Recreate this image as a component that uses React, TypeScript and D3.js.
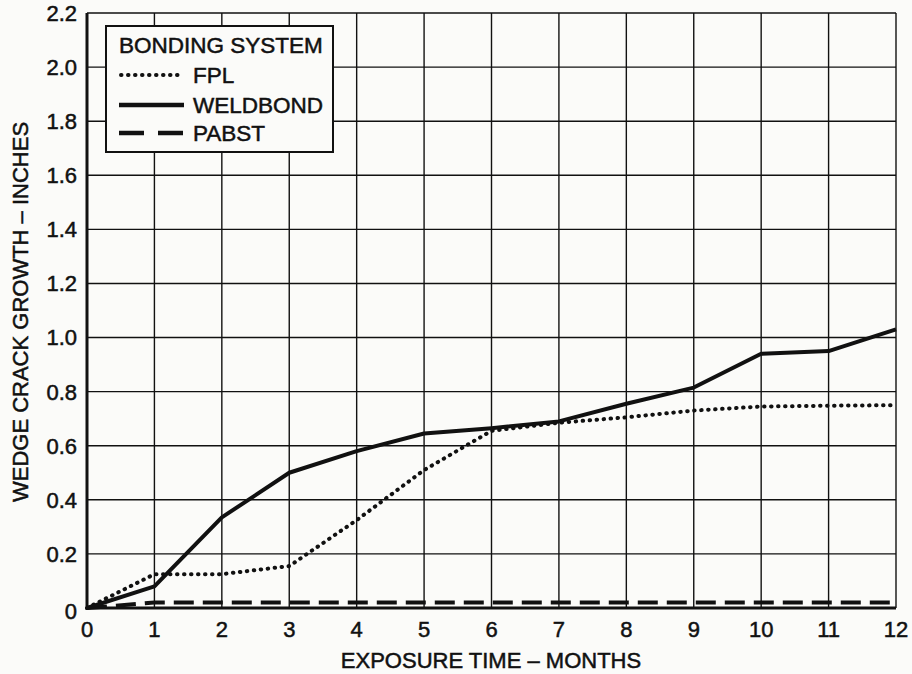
// @ts-nocheck
import React, { useEffect } from 'react';
import * as d3 from 'd3'

// months on the x axis
const months = [0, 1, 2, 3, 4, 5, 6, 7, 8, 9, 10, 11, 12]
// wedge crack growth, inches
const fpl = [0, 0.125, 0.125, 0.155, 0.325, 0.51, 0.655, 0.685, 0.705, 0.73, 0.745, 0.748, 0.75]
const weldbond = [0, 0.08, 0.335, 0.5, 0.58, 0.645, 0.665, 0.69, 0.755, 0.815, 0.94, 0.95, 1.03]
const pabst = [0, 0.02, 0.02, 0.02, 0.02, 0.02, 0.02, 0.02, 0.02, 0.02, 0.02, 0.02, 0.02]

const yTicks = [0, 0.2, 0.4, 0.6, 0.8, 1.0, 1.2, 1.4, 1.6, 1.8, 2.0, 2.2]
const xTicks = months

const font = "'Liberation Sans', Arial, Helvetica, sans-serif"
const ink = "#111"
const paper = "#fbfbf9"

export default function App() {
    useEffect(() => {
        document.body.style.margin = "0"
    }, [])

    const W = 912, H = 674
    const x = d3.scaleLinear().domain([0, 12]).range([87, 896])
    const y = d3.scaleLinear().domain([0, 2.2]).range([608, 13])

    const line = d3.line()
        .x(d => x(d[0]))
        .y(d => y(d[1]))

    const pts = (vals) => months.map((m, i) => [m, vals[i]])

    const yFmt = v => (v === 0 ? "0" : v.toFixed(1))

    return (
        <svg width={W} height={H} style={{ display: "block", background: paper }}>
            {/* grid */}
            <g stroke={ink} strokeWidth={1.4}>
                {xTicks.filter(t => t > 0).map(t => (
                    <line key={"gx" + t} x1={x(t)} x2={x(t)} y1={y(0)} y2={y(2.2)} />
                ))}
                {yTicks.filter(t => t > 0).map(t => (
                    <line key={"gy" + t} x1={x(0)} x2={x(12)} y1={y(t)} y2={y(t)} />
                ))}
            </g>

            {/* axes */}
            <line x1={x(0)} x2={x(0)} y1={y(0) + 1.5} y2={y(2.2)} stroke={ink} strokeWidth={3} />
            <line x1={x(0)} x2={x(12)} y1={y(0)} y2={y(0)} stroke={ink} strokeWidth={3} />

            {/* legend box (covers grid) */}
            <rect x={106} y={26} width={227} height={126} fill={paper} stroke={ink} strokeWidth={2} />
            <g fontFamily={font} fontSize={22.5} fill={ink} stroke={ink} strokeWidth={0.5}>
                <text x={119} y={53}>BONDING SYSTEM</text>
                <text x={193} y={83}>FPL</text>
                <text x={193} y={113}>WELDBOND</text>
                <text x={193} y={141}>PABST</text>
            </g>
            <line x1={121} x2={183} y1={75} y2={75} stroke={ink} strokeWidth={4}
                strokeDasharray="0.5 6.5" strokeLinecap="round" />
            <line x1={119} x2={184} y1={105} y2={105} stroke={ink} strokeWidth={4.5} />
            <line x1={119} x2={184} y1={133} y2={133} stroke={ink} strokeWidth={4.5}
                strokeDasharray="25 14" />

            {/* series */}
            <path d={line(pts(pabst))} fill="none" stroke={ink} strokeWidth={4}
                strokeDasharray="20 9" />
            <path d={line(pts(fpl))} fill="none" stroke={ink} strokeWidth={4}
                strokeDasharray="0.5 6.5" strokeLinecap="round" />
            <path d={line(pts(weldbond))} fill="none" stroke={ink} strokeWidth={4}
                strokeLinejoin="round" />

            {/* tick labels */}
            <g fontFamily={font} fontSize={22} fill={ink} stroke={ink} strokeWidth={0.5}>
                {yTicks.map(t => (
                    <text key={"yl" + t} x={77} y={y(t) + (t === 0 ? 3 : 0)} dy="0.36em" textAnchor="end">{yFmt(t)}</text>
                ))}
                {xTicks.map(t => (
                    <text key={"xl" + t} x={x(t)} y={637} textAnchor="middle">{t}</text>
                ))}
            </g>

            {/* axis titles */}
            <g fontFamily={font} fontSize={22} fill={ink} stroke={ink} strokeWidth={0.5}>
                <text x={491} y={668} textAnchor="middle">EXPOSURE TIME – MONTHS</text>
                <text transform={`translate(28, 312) rotate(-90)`} textAnchor="middle">
                    WEDGE CRACK GROWTH – INCHES
                </text>
            </g>
        </svg>
    )
}
